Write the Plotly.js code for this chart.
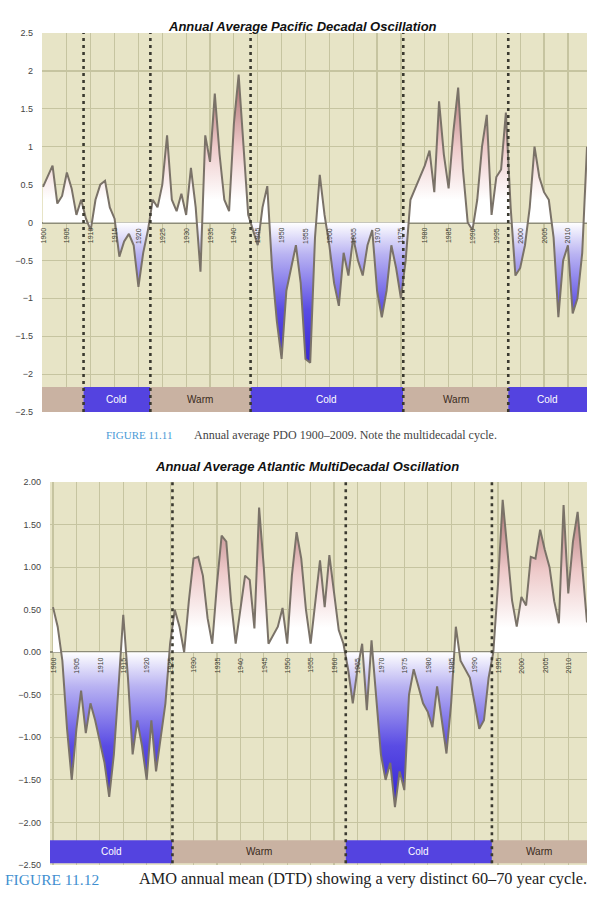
<!DOCTYPE html>
<html>
<head>
<meta charset="utf-8">
<script src="https://cdn.plot.ly/plotly-3.0.1.min.js"></script>
<style>
html,body{margin:0;padding:0;background:#fff;}
#chart{width:599px;height:902px;}
</style>
</head>
<body>
<div id="chart"></div>
<script>
// ---------------- DATA ----------------
const firstYear = 1900;
const lastYear = 2014;

const pdoValues = [
 0.47, 0.60, 0.75, 0.25, 0.35, 0.66, 0.45, 0.10, 0.30, 0.05,
 -0.10, 0.30, 0.50, 0.55, 0.20, 0.05, -0.45, -0.25, -0.15, -0.30,
 -0.85, -0.40, -0.10, 0.30, 0.20, 0.50, 1.15, 0.30, 0.15, 0.38,
 0.10, 0.72, 0.20, -0.65, 1.15, 0.80, 1.70, 0.90, 0.30, 0.15,
 1.30, 1.95, 1.00, 0.10, -0.10, -0.30, 0.20, 0.48, -0.60, -1.30,
 -1.80, -0.90, -0.60, -0.30, -0.80, -1.80, -1.85, -0.20, 0.63, 0.10,
 -0.30, -0.80, -1.10, -0.40, -0.70, -0.20, -0.50, -0.70, -0.30, -0.10,
 -0.90, -1.25, -0.90, -0.30, -0.60, -1.00, -0.50, 0.30, 0.45, 0.60,
 0.75, 0.95, 0.40, 1.60, 0.90, 0.45, 1.20, 1.78, 0.70, 0.00,
 -0.10, 0.30, 1.00, 1.42, 0.10, 0.60, 0.70, 1.45, 0.20, -0.70,
 -0.60, -0.30, 0.20, 1.00, 0.60, 0.40, 0.30, -0.20, -1.25, -0.50,
 -0.30, -1.20, -1.00, -0.40, 1.00
];

const amoValues = [
 0.53, 0.30, -0.10, -0.90, -1.50, -0.90, -0.45, -0.95, -0.60, -0.80,
 -1.05, -1.30, -1.70, -1.20, -0.40, 0.44, -0.30, -1.20, -0.80, -1.10,
 -1.50, -0.80, -1.40, -1.00, -0.60, 0.10, 0.50, 0.30, 0.00, 0.60,
 1.10, 1.12, 0.90, 0.40, 0.10, 0.80, 1.37, 1.30, 0.60, 0.10,
 0.50, 0.90, 0.85, 0.28, 1.70, 1.00, 0.10, 0.20, 0.30, 0.52,
 0.10, 0.90, 1.41, 1.10, 0.50, 0.10, 0.60, 1.08, 0.53, 1.14,
 0.70, 0.26, 0.10, -0.20, -0.60, -0.20, 0.10, -0.68, 0.14, -0.50,
 -1.20, -1.50, -1.30, -1.82, -1.40, -1.62, -0.50, -0.20, -0.40, -0.60,
 -0.70, -0.88, -0.40, -0.80, -1.19, -0.60, 0.30, -0.10, -0.20, -0.30,
 -0.60, -0.90, -0.80, -0.30, 0.00, 0.80, 1.79, 1.20, 0.61, 0.30,
 0.65, 0.55, 1.12, 1.10, 1.44, 1.20, 1.00, 0.60, 0.34, 1.73,
 0.69, 1.30, 1.65, 1.00, 0.35
];

const tickYears = [1900,1905,1910,1915,1920,1925,1930,1935,1940,1945,1950,1955,1960,1965,1970,1975,1980,1985,1990,1995,2000,2005,2010];

// regime boundaries and labels
const pdoShifts = [1908.5, 1922.5, 1943.5, 1975.5, 1997.5];
const pdoPhaseLabels = ["", "Cold", "Warm", "Cold", "Warm", "Cold"];
const amoShifts = [1925.5, 1962.5, 1993.7];
const amoPhaseLabels = ["Cold", "Warm", "Cold", "Warm"];

const pdoTitle = "Annual Average Pacific Decadal Oscillation";
const amoTitle = "Annual Average Atlantic MultiDecadal Oscillation";
const caption1Label = "FIGURE 11.11";
const caption1Text = "Annual average PDO 1900–2009. Note the multidecadal cycle.";
const caption2Label = "FIGURE 11.12";
const caption2Text = "AMO annual mean (DTD) showing a very distinct 60–70 year cycle.";

// ---------------- BUILD ----------------
const years = [];
for (let y = firstYear; y <= lastYear; y++) years.push(y);

const W = 599, H = 902;
const px = v => v / W;
const py = v => 1 - v / H;

const topRange = [1899.79, 2014];
const botRange = [1899.36, 2014];
const topY = [-2.5, 2.5];
const botY = [-2.5, 2.0];

const coldColor = '#5443e0';
const warmColor = '#c9b2a2';
const dotColor = '#3b3a30';

function areaTrace(vals, xa, ya, start, stop) {
  const z = (0 - start) / (stop - start);
  return {
    x: years, y: vals, xaxis: xa, yaxis: ya,
    type: 'scatter', mode: 'lines',
    line: {color: '#7a7268', width: 2},
    fill: 'tozeroy',
    fillgradient: {
      type: 'vertical', start: start, stop: stop,
      colorscale: [
        [0, '#2a18d0'],
        [z * 0.45, '#5a4ce4'],
        [z * 0.8, '#b9b3f2'],
        [z, '#ffffff'],
        [z + (1 - z) * 0.15, '#ffffff'],
        [z + (1 - z) * 0.5, '#eecaca'],
        [1, '#a26262']
      ]
    },
    hoverinfo: 'x+y', showlegend: false
  };
}

const traces = [
  areaTrace(pdoValues, 'x', 'y', -2.1, 2.0),
  areaTrace(amoValues, 'x2', 'y2', -2.0, 1.9)
];

const shapes = [];
const annotations = [];

function bands(shifts, labels, range, xref, yref, yb0, yb1, dotTop) {
  const edges = [range[0]].concat(shifts, [range[1]]);
  for (let i = 0; i < labels.length; i++) {
    const cold = labels[i] === 'Cold';
    shapes.push({type: 'rect', xref: xref, yref: yref, layer: 'between',
      x0: edges[i], x1: edges[i + 1], y0: yb0, y1: yb1,
      fillcolor: cold ? coldColor : warmColor, line: {width: 0}});
    if (labels[i]) {
      annotations.push({xref: xref, yref: yref, x: (edges[i] + edges[i + 1]) / 2,
        y: (yb0 + yb1) / 2, text: labels[i], showarrow: false,
        font: {family: 'Liberation Sans, Arial, sans-serif', size: 10,
               color: cold ? '#ffffff' : '#3a2a20'}});
    }
  }
  shifts.forEach(s => {
    shapes.push({type: 'line', xref: xref, yref: yref, layer: 'above',
      x0: s, x1: s, y0: yb0, y1: dotTop,
      line: {color: dotColor, width: 2.6, dash: '3px,4px'}});
  });
}
bands(pdoShifts, pdoPhaseLabels, topRange, 'x', 'y', -2.5, -2.17, 2.5);
bands(amoShifts, amoPhaseLabels, botRange, 'x2', 'y2', -2.48, -2.21, 2.0);

// rotated year labels sitting under the zero line
function yearLabels(xref, yref) {
  tickYears.forEach(t => {
    annotations.push({xref: xref, yref: yref, x: t, y: 0, yanchor: 'top',
      xanchor: 'center', yshift: -3, textangle: -90, text: String(t),
      showarrow: false,
      font: {family: 'Liberation Sans, Arial, sans-serif', size: 7, color: '#3c3c34'}});
  });
}
yearLabels('x', 'y');
yearLabels('x2', 'y2');

// titles
annotations.push({xref: 'paper', yref: 'paper', x: px(302), y: py(17), text: '<b><i>' + pdoTitle + '</i></b>',
  showarrow: false, font: {family: 'Liberation Sans, Arial, sans-serif', size: 13, color: '#111'}});
annotations.push({xref: 'paper', yref: 'paper', x: px(307), y: py(466), text: '<b><i>' + amoTitle + '</i></b>',
  showarrow: false, font: {family: 'Liberation Sans, Arial, sans-serif', size: 13, color: '#111'}});

// captions
annotations.push({xref: 'paper', yref: 'paper', x: px(104), y: py(435), xanchor: 'left',
  text: caption1Label, showarrow: false,
  font: {family: 'Liberation Serif, serif', size: 11, color: '#4a9ad6'}});
annotations.push({xref: 'paper', yref: 'paper', x: px(192), y: py(435), xanchor: 'left',
  text: caption1Text, showarrow: false,
  font: {family: 'Liberation Serif, serif', size: 12, color: '#444'}});
annotations.push({xref: 'paper', yref: 'paper', x: px(4), y: py(889), xanchor: 'left',
  text: caption2Label, showarrow: false, borderpad: 0,
  font: {family: 'Liberation Serif, serif', size: 15.5, color: '#3f8fd0'}});
annotations.push({xref: 'paper', yref: 'paper', x: px(138), y: py(889), xanchor: 'left',
  text: caption2Text, showarrow: false, borderpad: 0,
  font: {family: 'Liberation Serif, serif', size: 16.3, color: '#222'}});

const gridColor = '#c6c4a0';
const bg = '#e7e4c6';
const axFont = {family: 'Liberation Sans, Arial, sans-serif', size: 9, color: '#444'};

function xAxis(domain, range, anchor) {
  return {domain: domain, range: range, anchor: anchor, tick0: 1900, dtick: 5,
    showticklabels: false, ticks: '', showgrid: true, gridcolor: gridColor, gridwidth: 1.2,
    zeroline: false, showline: false, fixedrange: true};
}
function yAxis(domain, range, anchor, fmt, standoff) {
  return {domain: domain, range: range, anchor: anchor, dtick: 0.5, tick0: 0,
    tickformat: fmt, tickfont: axFont, ticks: '', ticklabelstandoff: standoff,
    showgrid: true, gridcolor: gridColor, gridwidth: 1.2,
    zeroline: true, zerolinecolor: '#8d8c78', zerolinewidth: 2,
    showline: false, fixedrange: true};
}

const layout = {
  width: W, height: H,
  margin: {l: 0, r: 0, t: 0, b: 0},
  paper_bgcolor: '#ffffff',
  plot_bgcolor: bg,
  showlegend: false,
  xaxis: xAxis([px(42), px(587)], topRange, 'y'),
  yaxis: yAxis([py(412), py(33)], topY, 'x', '', 8),
  xaxis2: xAxis([px(50), px(587)], botRange, 'y2'),
  yaxis2: yAxis([py(865), py(482)], botY, 'x2', '.2f', 8),
  shapes: shapes,
  annotations: annotations
};

Plotly.newPlot('chart', traces, layout, {staticPlot: true});
</script>
</body>
</html>
